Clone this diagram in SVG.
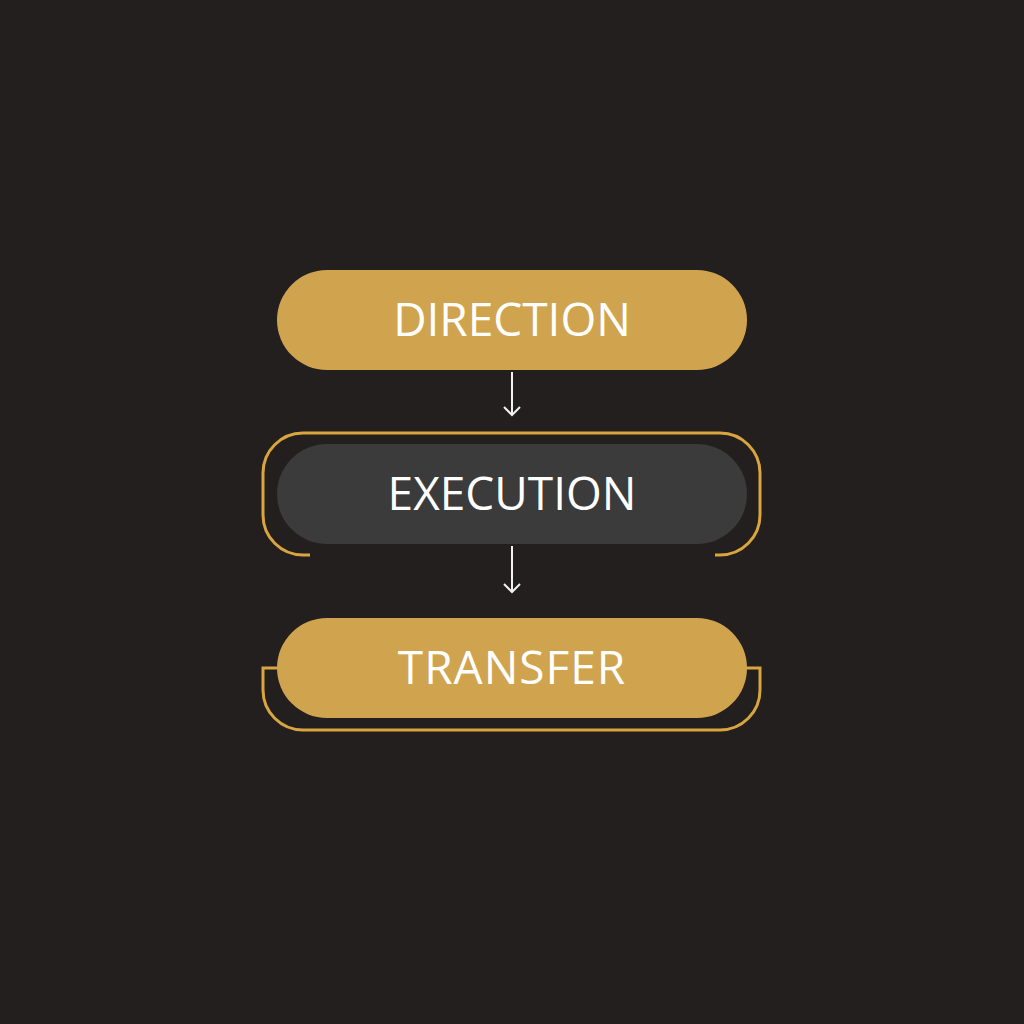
<svg xmlns="http://www.w3.org/2000/svg" width="1024" height="1024" viewBox="0 0 1024 1024">
<defs>
<marker id="ah" viewBox="0 0 20 20" refX="17" refY="10" markerWidth="20" markerHeight="20" markerUnits="userSpaceOnUse" orient="auto">
<path d="M9 2 L17 10 L9 18" fill="none" stroke="#f2f2f2" stroke-width="2"/>
</marker>
<style>
.gold{fill:#d0a44e}
.dark{fill:#3b3b3b}
.lbl{font-family:"Open Sans","Noto Sans",sans-serif;font-size:46px;fill:#ffffff;text-anchor:middle}
.frame{fill:none;stroke:#d9a53f;stroke-width:3;stroke-linecap:butt}
.conn{stroke:#f2f2f2;stroke-width:2;fill:none}
</style>
</defs>
<rect width="1024" height="1024" fill="#231f1f"/>
<g id="direction">
<rect class="gold" x="277" y="270" width="470" height="100" rx="50"/>
<text class="lbl" x="512" y="336">DIRECTION</text>
</g>
<g id="execution">
<path class="frame" d="M310 555 H303 A40 40 0 0 1 263 515 V473 A40 40 0 0 1 303 433 H720 A40 40 0 0 1 760 473 V515 A40 40 0 0 1 720 555 H715"/>
<rect class="dark" x="277" y="444" width="470" height="100" rx="50"/>
<text class="lbl" x="512" y="510">EXECUTION</text>
</g>
<g id="transfer">
<path class="frame" d="M278 668 H263 V690 A40 40 0 0 0 303 730 H720 A40 40 0 0 0 760 690 V668 H746"/>
<rect class="gold" x="277" y="618" width="470" height="100" rx="50"/>
<text class="lbl" x="512" y="684" letter-spacing="1">TRANSFER</text>
</g>
<g id="connectors">
<line class="conn" x1="512" y1="372" x2="512" y2="415" marker-end="url(#ah)"/>
<line class="conn" x1="512" y1="546" x2="512" y2="592" marker-end="url(#ah)"/>
</g>
</svg>
